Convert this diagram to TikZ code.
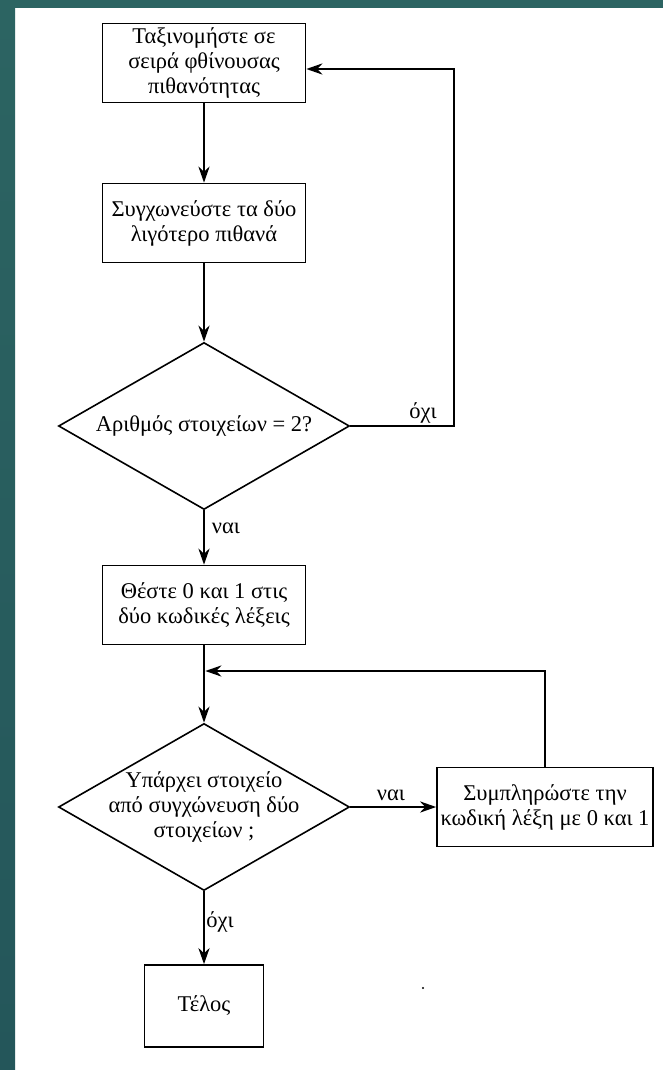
\documentclass[tikz,border=0pt]{standalone}
\usepackage{fontspec}
\setmainfont{Liberation Serif}
\usepackage{tikz}
\usetikzlibrary{shapes.geometric,arrows.meta}
\newcommand{\pixel}{1pt}
\newcommand{\flowfont}{\fontsize{22.5}{25}\selectfont}
\definecolor{frameteal}{RGB}{44,100,98}
\definecolor{framemid}{RGB}{62,124,113}
\definecolor{framedark}{RGB}{36,86,90}

\begin{document}
\begin{tikzpicture}[x=\pixel,y=-\pixel,
	box/.style={draw, line width=1.6pt, minimum width=203pt, minimum height=79pt, inner sep=0pt, align=center, font=\flowfont},
	decision/.style={diamond, draw, line width=1.6pt, minimum width=291pt, minimum height=167pt, inner sep=0pt},
	flow/.style={line width=2.6pt, -{Stealth[length=16pt,width=11pt,inset=5pt]}},
	lab/.style={inner sep=0pt, align=center, font=\flowfont}]
	\useasboundingbox (0,0) rectangle (663,1070);
	\fill[white] (0,0) rectangle (663,1070);
	\shade[top color=frameteal, middle color=framemid, bottom color=framedark] (0,0) rectangle (15,1070);
	\fill[frameteal] (0,0) rectangle (663,8);

	\node[box] (Sort) at (204,63) {Ταξινομήστε σε\\σειρά φθίνουσας\\πιθανότητας};
	\node[box] (Merge) at (204,223) {Συγχωνεύστε τα δύο\\λιγότερο πιθανά};
	\node[decision, label={[lab]center:Αριθμός στοιχείων = 2?}] (Q1) at (204,426) {};
	\node[box] (Assign) at (204,605) {Θέστε 0 και 1 στις\\δύο κωδικές λέξεις};
	\node[decision, label={[lab]center:Υπάρχει στοιχείο\\από συγχώνευση δύο\\στοιχείων ;}] (Q2) at (204,807) {};
	\node[box, minimum width=216pt] (Fill) at (545,807) {Συμπληρώστε την\\κωδική λέξη με 0 και 1};
	\node[box, minimum width=119pt, minimum height=82pt] (End) at (204,1006) {Τέλος};
	\coordinate (Back) at (454,69);
	\coordinate (Turn) at (545,671);
	\coordinate (Join) at (205.3,671);

	\node[lab] (NoA) at (423,413) {όχι};
	\node[lab] (YesA) at (226,528) {ναι};
	\node[lab] (YesB) at (391,795) {ναι};
	\node[lab] (NoB) at (220,922) {όχι};

	\draw[flow] (Sort) -- (Merge);
	\draw[flow] (Merge) -- (Q1);
	\draw[flow] (Q1.east) -| (Back) -- (Back -| Sort.east);
	\draw[flow] (Q1) -- (Assign);
	\draw[flow] (Assign) -- (Q2);
	\draw[flow] (Q2) -- (Fill);
	\draw[flow] (Fill) -- (Turn) -- (Join);
	\draw[flow] (Q2) -- (End);
	\fill (423,988) circle (1.2pt);
\end{tikzpicture}
\end{document}
